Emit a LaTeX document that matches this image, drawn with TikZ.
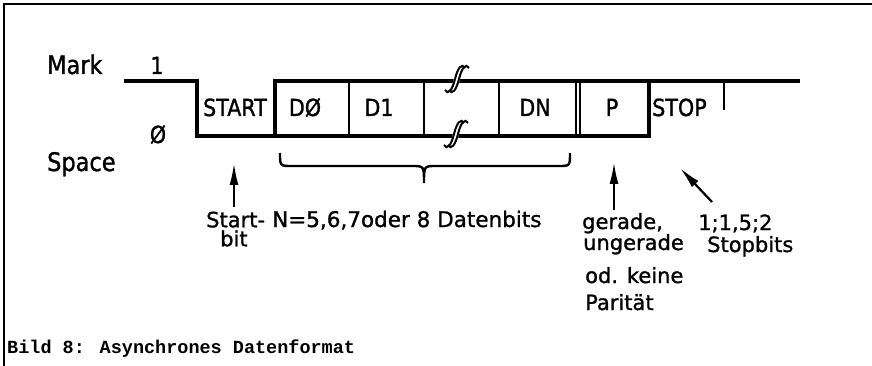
\documentclass[tikz,border=0pt]{standalone}
\usepackage{fontspec}
\usetikzlibrary{arrows.meta}
\newfontfamily\dv[FakeBold=1.2]{DejaVu Sans}
\newfontfamily\dvn[FakeStretch=0.88,FakeBold=1.2]{DejaVu Sans}
\newfontfamily\capmono{Liberation Mono}
\tikzset{
  sig/.style={line width=3.4pt, line join=miter},
  sep/.style={line width=2.2pt},
  frame/.style={line width=2.4pt},
  lbl/.style={font=\dv\fontsize{21}{21}\selectfont, inner sep=0pt, anchor=base west},
  boxlbl/.style={font=\dvn\fontsize{23.5}{23.5}\selectfont, inner sep=0pt, anchor=base},
  side/.style={font=\dvn\fontsize{25.5}{25.5}\selectfont, inner sep=0pt, anchor=base west},
  arr/.style={line width=2.2pt, -{Latex[length=22pt,width=9pt]}},
  brace/.style={line width=2.4pt},
  brk/.pic={
    \draw[white, line width=6pt] (-8,11) .. controls (-5,16) and (-1,12) .. (2,0) .. controls (5,-12) and (9,-16) .. (12,-11);
    \draw[line width=2pt] (-10,11) .. controls (-7,16) and (-3,12) .. (0,0) .. controls (3,-12) and (7,-16) .. (10,-11);
    \draw[line width=2pt] (-6,11) .. controls (-3,16) and (1,12) .. (4,0) .. controls (7,-12) and (11,-16) .. (14,-11);
  }
}
\begin{document}
\begin{tikzpicture}[x=1pt,y=-1pt]
\useasboundingbox[fill=white] (0,0) rectangle (872,366);
% frame
\draw[frame] (4,366) -- (4,4) -- (872,4);
% waveform
\draw[sig] (124,81) -- (197,81) -- (197,136) -- (649,136) -- (649,81);
\draw[sig] (275,136) -- (275,81) -- (800,81);
\draw[sep] (349,81) -- (349,136);
\draw[sep] (424,81) -- (424,136);
\draw[sep] (499,81) -- (499,136);
\draw[sep] (576,81) -- (576,136);
\draw[sep] (580,81) -- (580,136);
\draw[line width=2.6pt] (724,81) -- (724,110);
% break marks
\pic at (455,79) {brk};
\pic at (454,134) {brk};
% side labels
\node[side] (mark) at (47,74) {Mark};
\node[side] (space) at (47,171) {Space};
\node[boxlbl] (one) at (157,74) {1};
\node[boxlbl] (zero) at (158,143) {Ø};
% box labels
\node[boxlbl] (start) at (235,116) {START};
\node[boxlbl] (d0) at (305,116) {DØ};
\node[boxlbl] (d1) at (379,116) {D1};
\node[boxlbl] (dn) at (535,116) {DN};
\node[boxlbl] (p) at (612,116) {P};
\node[boxlbl, anchor=base west] (stop) at (652,116) {STOP};
% brace
\draw[brace] (280,153) .. controls (280,166) .. (292,166) -- (412,166) .. controls (424,166) .. (424,183) .. controls (424,166) .. (436,166) -- (558,166) .. controls (570,166) .. (570,153);
% lower labels
\node[lbl, anchor=north west, align=left] (startbit) at (206,211.5) {Start-\\[-2pt]\hspace*{14pt}bit};
\node[lbl, font=\dv\fontsize{21.5}{21.5}\selectfont] (nbits) at (272,227) {N=5,6,7oder 8 Datenbits};
\node[lbl] (par1) at (582,229) {gerade,};
\node[lbl] (par2) at (583,250) {ungerade};
\node[lbl] (par3) at (585,283) {od. keine};
\node[lbl] (par4) at (585,310) {Parität};
\node[lbl] (stop1) at (698,230) {1;1,5;2};
\node[lbl] (stop2) at (707,252) {Stopbits};
% arrows
\coordinate (tipstart) at (234,163);
\coordinate (tailstart) at (234,207);
\coordinate (tippar) at (614,162);
\coordinate (tailpar) at (614,210);
\coordinate (tipstop) at (680,168);
\coordinate (tailstop) at (712,202);
\draw[arr] (tailstart) -- (tipstart);
\draw[arr] (tailpar) -- (tippar);
\draw[arr] (tailstop) -- (tipstop);
% caption
\node[inner sep=0pt, anchor=base west, font=\capmono\bfseries\fontsize{18.5}{18.5}\selectfont] (caption) at (7,353) {Bild 8: Asynchrones Datenformat};
\end{tikzpicture}
\end{document}
